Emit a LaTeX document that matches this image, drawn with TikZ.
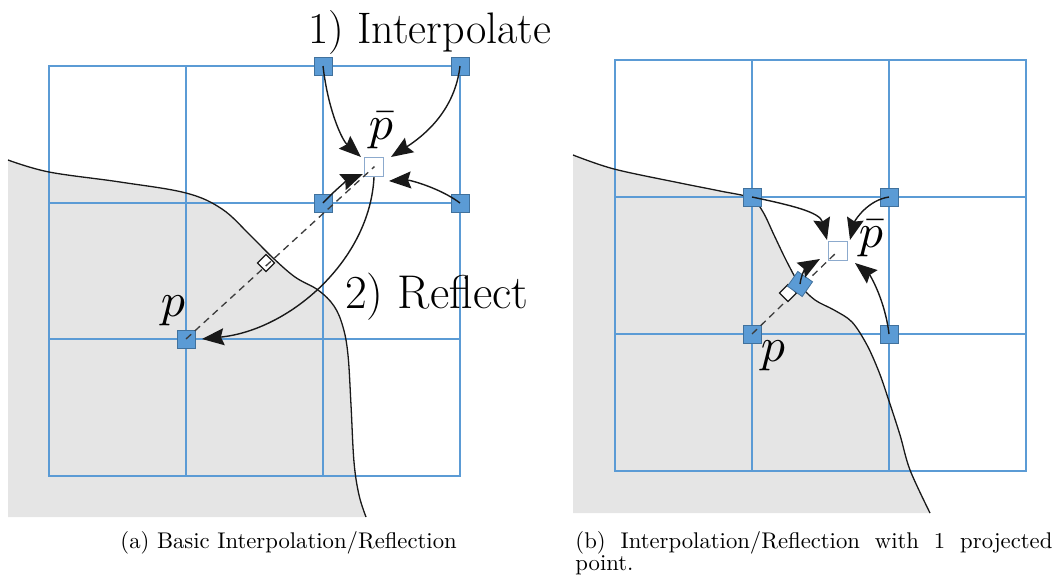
\documentclass[tikz,border=0pt]{standalone}
\usepackage{fontspec}
\usetikzlibrary{arrows.meta}
\definecolor{gridblue}{RGB}{91,155,213}
\definecolor{sqedge}{RGB}{65,113,156}
\definecolor{shade}{RGB}{229,229,229}
\definecolor{hollow}{RGB}{140,170,205}
\definecolor{ink}{RGB}{25,25,25}
\tikzset{
 gridline/.style={draw=gridblue, line width=1.5pt},
 surface/.style={draw=ink, line width=1.3pt},
 region/.style={fill=shade},
 gpt/.style={draw=sqedge, fill=gridblue, minimum size=18pt, inner sep=0pt, line width=0.8pt},
 hpt/.style={draw=hollow, fill=white, minimum size=19pt, inner sep=0pt, line width=1.2pt},
 rightangle/.style={draw=ink, fill=white, minimum size=12pt, inner sep=0pt, line width=1.2pt, rotate=45},
 flow/.style={draw=ink, line width=1.4pt, -{Stealth[length=22pt,width=17pt,inset=3pt]}},
 dashline/.style={draw=ink!85, line width=1.3pt, dash pattern=on 7pt off 5pt},
 bigtxt/.style={font=\fontsize{44}{50}\selectfont, inner sep=0pt, anchor=base west},
 ptxt/.style={scale=4.8, inner sep=0pt, anchor=base},
 captxt/.style={scale=2.27, inner sep=0pt, anchor=base west}
}
\begin{document}
\begin{tikzpicture}[x=1pt,y=-1pt]
\useasboundingbox (0,0) rectangle (1055,576);
% ---------------- panel (a)
\path[region] plot[smooth, tension=0.6] coordinates {(8,160) (49,172) (120,182) (186,193) (222,209) (250,235) (272,257) (295,277) (318,290) (334,306) (343,327) (348,355) (351,405) (354,462) (359,495) (366,517)} -- (8,517) -- cycle;
\draw[gridline] (49,66) rectangle (460,476);
\foreach \x in {186,323} \draw[gridline] (\x,66) -- (\x,476);
\foreach \y in {203,339} \draw[gridline] (49,\y) -- (460,\y);
\draw[surface] plot[smooth, tension=0.6] coordinates {(8,160) (49,172) (120,182) (186,193) (222,209) (250,235) (272,257) (295,277) (318,290) (334,306) (343,327) (348,355) (351,405) (354,462) (359,495) (366,517)};
\node[gpt] (a1) at (323,66) {};
\node[gpt] (a2) at (460,66) {};
\node[gpt] (a3) at (323,203) {};
\node[gpt] (a4) at (460,203) {};
\node[gpt] (ap) at (186,339) {};
\node[hpt] (apb) at (374,167) {};
\fill[gray] (apb.center) circle (1.2pt);
\node[rightangle] (am) at (266,263) {};
\draw[dashline] (ap.center) -- (apb.center);
\draw[flow] (a1.center) .. controls (328,110) and (342,140) .. ([xshift=-13pt,yshift=10pt]apb.center);
\draw[flow] (a2.center) .. controls (455,110) and (425,135) .. ([xshift=17pt,yshift=10pt]apb.center);
\draw[flow] (a4.center) .. controls (440,188) and (410,180) .. ([xshift=15pt,yshift=-14pt]apb.center);
\draw[flow] (a3.center) .. controls (335,190) and (348,180) .. ([xshift=-11pt,yshift=-7pt]apb.center);
\draw[flow] (apb.south) .. controls (370,260) and (290,330) .. ([xshift=16pt]ap.center);
\node[bigtxt] (interp) at (308,43) {\resizebox{243pt}{!}{1) Interpolate}};
\node[bigtxt] (refl) at (345,308) {\resizebox{183pt}{!}{2) Reflect}};
\node[ptxt] (lpbar) at (381,139) {$\bar{p}$};
\node[ptxt] (lp) at (173,316) {$p$};
\node[captxt] (capa) at (120,548) {(a) Basic Interpolation/Reflection};
% ---------------- panel (b)
\path[region] plot[smooth, tension=0.55] coordinates {(573,155) (614,169) (680,183) (720,191) (751,198) (763,212) (774,235) (787,262) (800,285) (815,300) (834,310) (852,322) (867,345) (879,372) (888,398) (900,435) (910,470) (930,513)} -- (573,513) -- cycle;
\draw[gridline] (615,60) rectangle (1026,471);
\foreach \x in {752,889} \draw[gridline] (\x,60) -- (\x,471);
\foreach \y in {197,334} \draw[gridline] (615,\y) -- (1026,\y);
\draw[surface] plot[smooth, tension=0.55] coordinates {(573,155) (614,169) (680,183) (720,191) (751,198) (763,212) (774,235) (787,262) (800,285) (815,300) (834,310) (852,322) (867,345) (879,372) (888,398) (900,435) (910,470) (930,513)};
\node[gpt] (b1) at (752,197) {};
\node[gpt] (b2) at (889,197) {};
\node[gpt] (b3) at (752,334) {};
\node[gpt] (b4) at (889,334) {};
\node[hpt] (bpb) at (838,251) {};
\draw[dashline] (b3.center) -- (bpb.center);
\node[rightangle] (bmk) at (788,293) {};
\node[gpt, rotate=-35] (bm) at (800,284) {};
\draw[flow] (b1.center) .. controls (790,205) and (820,212) .. ([xshift=-11pt,yshift=11pt]bpb.center);
\draw[flow] (b2.center) .. controls (868,200) and (855,220) .. ([xshift=12pt,yshift=11pt]bpb.center);
\draw[flow] (bm.center) .. controls (802,270) and (808,266) .. ([xshift=-18pt,yshift=-8pt]bpb.center);
\draw[flow] (b4.center) .. controls (885,300) and (870,275) .. ([xshift=17pt,yshift=-12pt]bpb.center);
\node[ptxt] (lpbarb) at (871,247) {$\bar{p}$};
\node[ptxt] (lpb) at (773,361) {$p$};
\node[captxt] (capb) at (575,548) {\makebox[210.1pt][s]{(b) Interpolation/Reflection with 1 projected}};
\node[captxt] (capb2) at (575,570) {point.};
\end{tikzpicture}
\end{document}
